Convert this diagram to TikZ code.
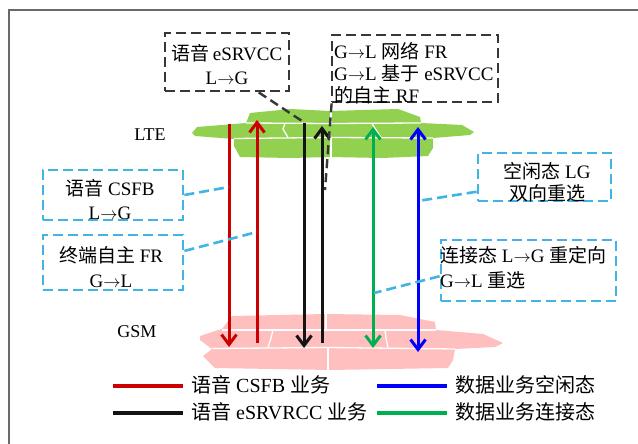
\documentclass[tikz,border=0pt]{standalone}
\usepackage{fontspec}
\setmainfont{Liberation Serif}
\newfontfamily\cjk{Noto Sans CJK SC}
\usetikzlibrary{arrows.meta,calc}
\definecolor{ltec}{RGB}{146,208,80}
\definecolor{gsmc}{RGB}{255,191,191}
\definecolor{cyanb}{RGB}{64,180,228}
\definecolor{darkb}{RGB}{55,55,55}
\definecolor{redl}{RGB}{204,0,0}
\definecolor{greenl}{RGB}{0,176,80}
\definecolor{bluel}{RGB}{0,0,255}
\definecolor{blackl}{RGB}{20,20,20}
\definecolor{framec}{RGB}{105,105,105}
\newcommand{\zh}[1]{{\cjk #1}}
\newcommand{\myarr}{$\rightarrow$}
\tikzset{
  darkbox/.style={draw=darkb, line width=2.8pt, dash pattern=on 10pt off 5pt, inner sep=0pt},
  cyanbox/.style={draw=cyanb, line width=2.8pt, dash pattern=on 10pt off 5pt, inner sep=0pt},
  darkconn/.style={draw=darkb, line width=2.4pt, dash pattern=on 9pt off 5pt},
  cyanconn/.style={draw=cyanb, line width=2.6pt, dash pattern=on 10pt off 5pt},
  txt/.style={inner sep=0pt, font=\fontsize{19}{24}\selectfont},
  legtxt/.style={inner sep=0pt, font=\fontsize{20}{24}\selectfont, anchor=west},
  laytxt/.style={inner sep=0pt, font=\fontsize{18}{22}\selectfont},
  flow/.style={line width=3pt},
  legline/.style={line width=3.4pt},
  divider/.style={white, line width=1.3pt},
  >={Straight Barb[length=10pt,width=15pt]}
}
\begin{document}
\begin{tikzpicture}[x=1pt,y=-1pt]
\useasboundingbox (0,0) rectangle (638,444);
\fill[white] (0,0) rectangle (638,444);
\draw[framec, line width=1.8pt] (9,444) -- (9,10) -- (638,10);

% LTE layer
\fill[ltec] (192,133) -- (197,127) -- (246,123) -- (250,113) -- (290,109) -- (330,111)
  -- (398,109) -- (420,117) -- (421,123) -- (462,125) -- (474,132) -- (470,135)
  -- (433,138) -- (433,148) -- (428,156) -- (382,158) -- (330,157) -- (290,158)
  -- (240,157) -- (234,146) -- (234,139) -- (195,136) -- cycle;
\draw[divider] (246,123) -- (330,123.5) -- (421,123);
\draw[divider] (331,111) -- (331,123.5);
\draw[divider] (234,138.5) -- (330,137.5) -- (433,138);
\draw[divider] (285,123.5) -- (283,129) -- (288,137.5);
\draw[divider] (372,123.5) -- (376,130) -- (381,137.5);
\draw[divider] (331,137.5) -- (331,157);
\node[laytxt] (lte) at (150,135) {LTE};

% GSM layer
\fill[gsmc] (200,336) -- (215,331) -- (222,329) -- (232,316) -- (325,314) -- (400,315)
  -- (435,322) -- (436,330) -- (483,334) -- (503,343) -- (495,347) -- (455,349)
  -- (453,360) -- (448,368) -- (330,370) -- (215,368) -- (203,356) -- (212,349)
  -- (200,340) -- cycle;
\draw[divider] (222,330) -- (326,330) -- (436,330);
\draw[divider] (326,314) -- (326,330);
\draw[divider] (212,348.5) -- (328,347.5) -- (455,349);
\draw[divider] (273,330) -- (271,338) -- (268,347.5);
\draw[divider] (385,330) -- (386,338) -- (388,347.5);
\draw[divider] (328,347.5) -- (328,370);
\node[laytxt] (gsm) at (137,332) {GSM};

% flow end points
\coordinate (r1t) at (229,124);  \coordinate (r1b) at (229,347);
\coordinate (r2t) at (257,120);  \coordinate (r2b) at (257,343);
\coordinate (k1t) at (304,123);  \coordinate (k1b) at (304,348);
\coordinate (k2t) at (322,126);  \coordinate (k2b) at (322,343);
\coordinate (g1t) at (373,127);  \coordinate (g1b) at (373,348);
\coordinate (u1t) at (418,127);  \coordinate (u1b) at (418,352);

\draw[flow, redl, ->] (r1t) -- (r1b);
\draw[flow, redl, ->] (r2b) -- (r2t);
\draw[flow, blackl, ->] (k1t) -- (k1b);
\draw[flow, blackl, ->] (k2b) -- (k2t);
\draw[flow, greenl, <->] (g1t) -- (g1b);
\draw[flow, bluel, <->] (u1t) -- (u1b);

% dark boxes
\node[darkbox, minimum width=124pt, minimum height=58pt] (b1) at (227,62) {};
\node[txt, align=center] (b1t) at (227,64.5) {\zh{语音}\,eSRVCC\\L\myarr G};
\node[darkbox, minimum width=166pt, minimum height=67pt] (b2) at (415,68.5) {};
\node[txt, align=left, anchor=west, font=\fontsize{19}{22}\selectfont] (b2t) at (334,73)
  {G\myarr L\ \zh{网络}\ FR\\G\myarr L\ \zh{基于}\ eSRVCC\\\zh{的自主}\ RF};

\coordinate (k1c) at (302,121);
\coordinate (b2e) at (325,190);
\draw[darkconn] ($(b1.south west)!0.75!(b1.south east)$) -- (k1c) -- (k1t);
\draw[darkconn] ($(b2.south west)+(1,0)$) -- (b2e);

% cyan boxes
\node[cyanbox, minimum width=140pt, minimum height=50pt] (b3) at (113,195) {};
\node[txt, align=center] (b3t) at (110,200) {\zh{语音}\ CSFB\\L\myarr G};
\node[cyanbox, minimum width=140pt, minimum height=55pt] (b4) at (113,262.5) {};
\node[txt, align=center, font=\fontsize{19}{25}\selectfont] (b4t) at (111,267.5) {\zh{终端自主}\ FR\\G\myarr L};
\node[cyanbox, minimum width=133pt, minimum height=48pt] (b5) at (544.5,177) {};
\node[txt, align=center, font=\fontsize{19}{22}\selectfont] (b5t) at (547,182.5) {\zh{空闲态}\ LG\\\zh{双向重选}};
\node[cyanbox, minimum width=175pt, minimum height=61pt] (b6) at (528.5,270.5) {};
\node[txt, align=left, anchor=west, font=\fontsize{19}{25}\selectfont] (b6t) at (440,267.5)
  {\zh{连接态}\ L\myarr G\ \zh{重定向}\\G\myarr L\ \zh{重选}};

\coordinate (c1) at (229,187);
\coordinate (c2) at (257,232);
\coordinate (c3) at (418,201);
\coordinate (c4) at (374,293);
\draw[cyanconn] (b3.east) -- (c1);
\draw[cyanconn] ($(b4.north east)!0.3!(b4.south east)$) -- (c2);
\draw[cyanconn] ($(b5.north west)!0.79!(b5.south west)$) -- (c3);
\draw[cyanconn] ($(b6.north west)!0.59!(b6.south west)$) -- (c4);

% legend
\coordinate (la1) at (113,386); \coordinate (la2) at (183,386);
\coordinate (lb1) at (113,413); \coordinate (lb2) at (183,413);
\coordinate (lc1) at (377,386); \coordinate (lc2) at (447,386);
\coordinate (ld1) at (377,413); \coordinate (ld2) at (447,413);
\draw[legline, redl] (la1) -- (la2);
\draw[legline, blackl] (lb1) -- (lb2);
\draw[legline, bluel] (lc1) -- (lc2);
\draw[legline, greenl] (ld1) -- (ld2);
\node[legtxt] (lt1) at (191,385) {\zh{语音}\ CSFB\ \zh{业务}};
\node[legtxt] (lt2) at (191,412) {\zh{语音}\ eSRVRCC\ \zh{业务}};
\node[legtxt] (lt3) at (455,385) {\zh{数据业务空闲态}};
\node[legtxt] (lt4) at (455,412) {\zh{数据业务连接态}};
\end{tikzpicture}
\end{document}
